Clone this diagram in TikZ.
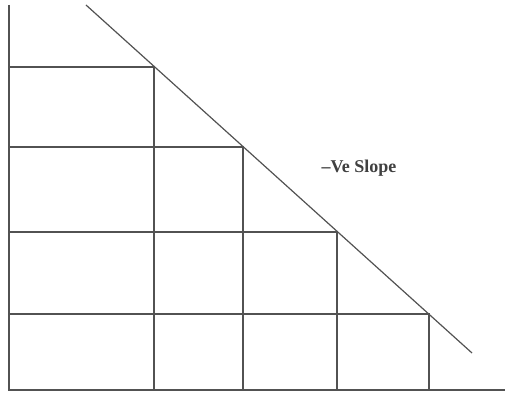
\documentclass[tikz,border=0pt]{standalone}
\usepackage{fontspec}
\setmainfont{Liberation Serif}
\begin{document}
\begin{tikzpicture}[x=1pt,y=-1pt,
  ln/.style={line width=1.4pt,draw=black!68},
  lbl/.style={font=\fontsize{18}{20}\selectfont\bfseries, text=black!75, inner sep=0pt}]
\useasboundingbox (0,0) rectangle (505,393);
\coordinate (O) at (9,390);
\coordinate (Ytop) at (9,5);
\coordinate (Xend) at (505,390);
\coordinate (Dtop) at (86,5);
\coordinate (Dend) at (472,353);
\coordinate (P1) at (154,67);
\coordinate (P2) at (243,147);
\coordinate (P3) at (337,232);
\coordinate (P4) at (429,314);
\draw[ln] (Ytop) -- (O) -- (Xend);
\draw[ln,line width=1.2pt] (Dtop) -- (Dend);
\foreach \p in {P1,P2,P3,P4}{
  \draw[ln] (O |- \p) -- (\p) -- (\p |- O);
}
\node[lbl] (slope) at (359,168) {–Ve Slope};
\end{tikzpicture}
\end{document}
